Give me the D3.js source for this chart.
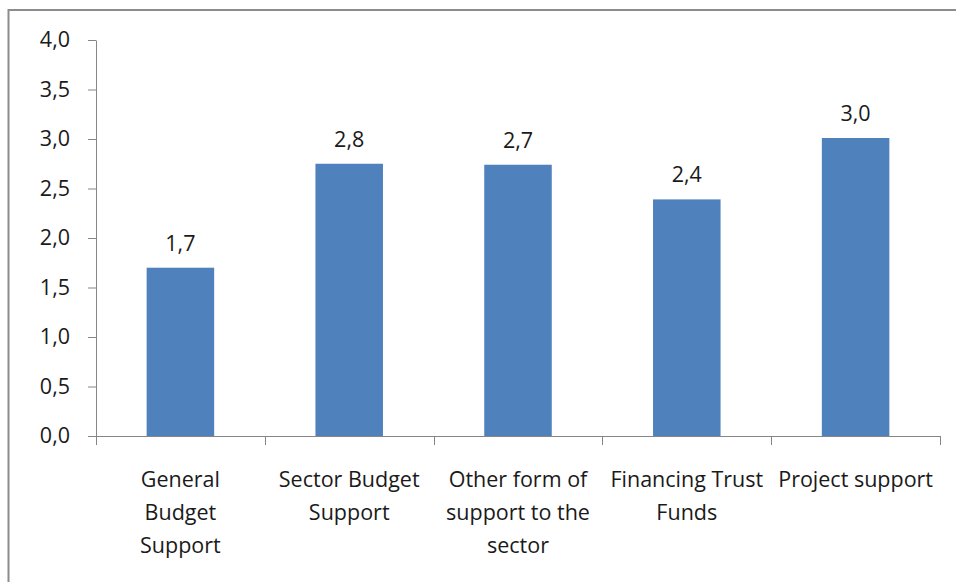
<!DOCTYPE html>
<html>
<head>
<meta charset="utf-8">
<script src="https://cdn.jsdelivr.net/npm/d3@7/dist/d3.min.js"></script>
<style>
  html, body { margin: 0; padding: 0; background: #fff; }
  svg { display: block; }
  text { font-family: "Open Sans", sans-serif; fill: #1a1a1a; }
</style>
</head>
<body>
<svg id="chart" width="956" height="582"></svg>
<script>
// Average score by aid modality
const categories = [
  ["General", "Budget", "Support"],
  ["Sector Budget", "Support"],
  ["Other form of", "support to the", "sector"],
  ["Financing Trust", "Funds"],
  ["Project support"]
];
const values = [1.70, 2.75, 2.74, 2.39, 3.01];
const yTicks = [0, 0.5, 1, 1.5, 2, 2.5, 3, 3.5, 4];

const svg = d3.select("#chart");
const W = 956, H = 582;
const plot = { left: 96, right: 940, top: 40, bottom: 436 };
const axisColor = "#868686";
const fontSize = 21.5;
const fmt = v => v.toFixed(1).replace(".", ",");

// chart frame
svg.append("rect")
  .attr("x", 8.5).attr("y", 10)
  .attr("width", W + 10).attr("height", H + 10)
  .attr("fill", "none").attr("stroke", "#8c8c8c").attr("stroke-width", 2);

const idx = categories.map((d, i) => i);
const x = d3.scaleBand().domain(idx).range([plot.left, plot.right]).paddingInner(0.6).paddingOuter(0.3);
const y = d3.scaleLinear().domain([0, 4]).range([plot.bottom, plot.top]);

// bars
svg.append("g").selectAll("rect").data(values).join("rect")
  .attr("x", (d, i) => x(i))
  .attr("y", d => y(d))
  .attr("width", x.bandwidth())
  .attr("height", d => y(0) - y(d))
  .attr("fill", "#4F81BD");

// value labels
svg.append("g").selectAll("text").data(values).join("text")
  .attr("x", (d, i) => x(i) + x.bandwidth() / 2)
  .attr("y", d => y(d) - 17)
  .attr("text-anchor", "middle")
  .attr("font-size", fontSize)
  .text(d => fmt(d));

// y axis
const yAxis = svg.append("g")
  .attr("transform", `translate(${plot.left},0)`)
  .call(d3.axisLeft(y).tickValues(yTicks).tickSize(8).tickSizeOuter(0).tickPadding(18).tickFormat(fmt));
yAxis.select(".domain").attr("stroke", axisColor);
yAxis.selectAll(".tick line").attr("stroke", axisColor);
yAxis.selectAll(".tick text").attr("font-size", fontSize).attr("fill", "#1a1a1a")
  .attr("font-family", "'Open Sans', sans-serif");

// x axis: tick marks sit on category boundaries
const step = (plot.right - plot.left) / categories.length;
const xg = svg.append("g");
xg.append("line")
  .attr("x1", plot.left).attr("x2", plot.right)
  .attr("y1", plot.bottom + 0.5).attr("y2", plot.bottom + 0.5)
  .attr("stroke", axisColor);
xg.selectAll("line.tick").data(d3.range(categories.length + 1)).join("line")
  .attr("class", "tick")
  .attr("x1", i => Math.round(plot.left + i * step) + 0.5)
  .attr("x2", i => Math.round(plot.left + i * step) + 0.5)
  .attr("y1", plot.bottom).attr("y2", plot.bottom + 9)
  .attr("stroke", axisColor);

// category labels
const labels = svg.append("g").selectAll("text").data(categories).join("text")
  .attr("text-anchor", "middle")
  .attr("font-size", fontSize)
  .attr("transform", (d, i) => `translate(${x(i) + x.bandwidth() / 2},487)`);
labels.selectAll("tspan").data(d => d).join("tspan")
  .attr("x", 0)
  .attr("dy", (d, j) => j === 0 ? 0 : 33)
  .text(d => d);
</script>
</body>
</html>
